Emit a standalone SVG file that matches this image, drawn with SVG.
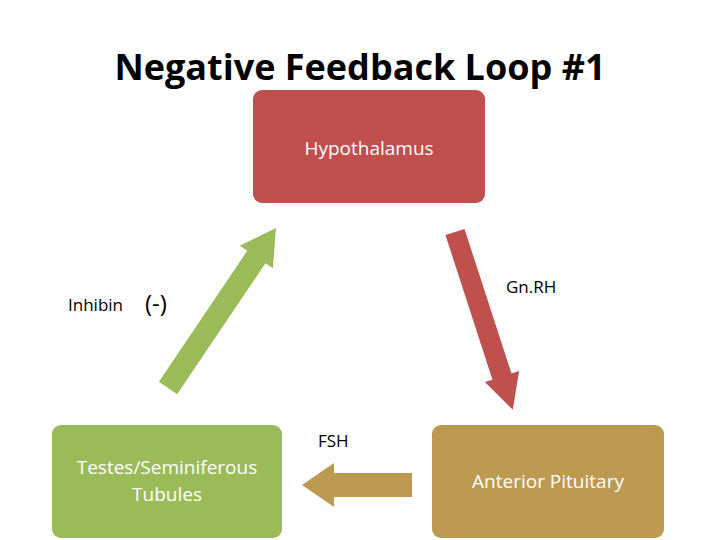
<svg xmlns="http://www.w3.org/2000/svg" width="720" height="540" viewBox="0 0 720 540">
<style>
.t{font-family:"Open Sans","Liberation Sans",sans-serif;}
.w{fill:#fff;font-size:19px;text-anchor:middle}
.l{fill:#000;font-size:17px}
</style>
<rect width="720" height="540" fill="#fff"/>
<text class="t" x="360" y="80" text-anchor="middle" font-size="36" font-weight="bold" fill="#000">Negative Feedback Loop #1</text>
<g id="connectors">
<polygon transform="translate(455,232) rotate(72)" points="0,-10 152,-10 152,-18 187,0 152,18 152,10 0,10" fill="#c0504d"/>
<polygon transform="translate(168,388) rotate(-56)" points="0,-11 158,-11 158,-20 193,0 158,20 158,11 0,11" fill="#9bbb59"/>
<polygon points="412,473 334,473 334,463 302,485 334,507 334,497 412,497" fill="#bd9a52"/>
<text class="t l" x="506" y="293">Gn.RH</text>
<text class="t l" x="68" y="311">Inhibin</text>
<text class="t" x="145" y="312" font-size="24" fill="#000">(-)</text>
<text class="t l" x="318" y="447">FSH</text>
</g>
<g id="hypothalamus"><rect x="253" y="90" width="232" height="113" rx="9" fill="#c0504d"/><text class="t w" x="369" y="155">Hypothalamus</text></g>
<g id="testes"><rect x="52" y="425" width="230" height="113" rx="9" fill="#9bbb59"/><text class="t w" x="167" y="474">Testes/Seminiferous</text><text class="t w" x="167" y="501">Tubules</text></g>
<g id="pituitary"><rect x="432" y="425" width="232" height="113" rx="9" fill="#bd9a52"/><text class="t w" x="548" y="488">Anterior Pituitary</text></g>
</svg>
